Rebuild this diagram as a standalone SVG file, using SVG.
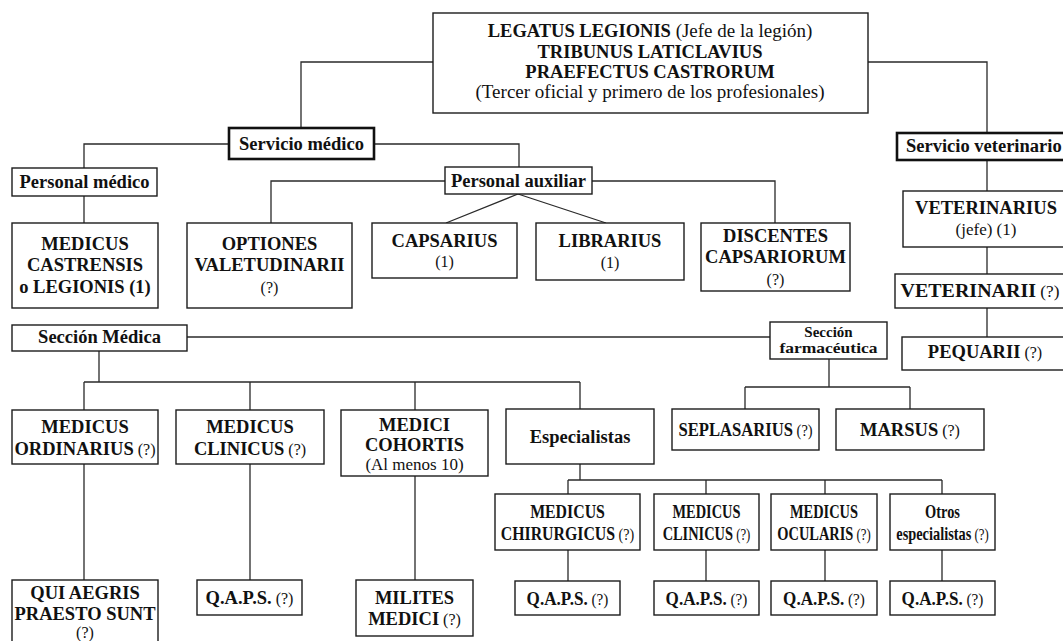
<svg xmlns="http://www.w3.org/2000/svg" width="1063" height="641" viewBox="0 0 1063 641">
<style>
.b{fill:#fff;stroke:#1c1c1c;stroke-width:1.4}
.bt{fill:#fff;stroke:#111;stroke-width:2.6}
.c{fill:none;stroke:#2a2a2a;stroke-width:1.3}
text{font-family:"Liberation Serif","Times New Roman",serif;fill:#111;text-anchor:middle;font-weight:bold;font-size:18.5px}
.r{font-weight:normal;font-size:16px}
.r19{font-weight:normal;font-size:19px}
.s{font-size:18px}
.f{font-size:15px}
</style>
<rect width="1063" height="641" fill="#fff"/>
<g id="connectors">
<path class="c" d="M433,62H301V128"/>
<path class="c" d="M868,62H987V133"/>
<path class="c" d="M229,144H84V168"/>
<path class="c" d="M374,144H519V167"/>
<path class="c" d="M84,196V223"/>
<path class="c" d="M445,181H271V223"/>
<path class="c" d="M592,181H775V223"/>
<path class="c" d="M518,194L446,223M518,194L606,223"/>
<path class="c" d="M187,337H770"/>
<path class="c" d="M99,351V382M84,382H580M84,382V410M250,382V410M415,382V410M580,382V409"/>
<path class="c" d="M829,359V387M745,387H910M745,387V409M910,387V409"/>
<path class="c" d="M987,160V191M987,247V274M987,308V337"/>
<path class="c" d="M84,464V580M250,464V580M415,476V580"/>
<path class="c" d="M580,464V480M568,480H942M568,480V494M706,480V494M825,480V494M942,480V494"/>
<path class="c" d="M568,550V581M706,550V581M825,550V581M942,550V581"/>
</g>
<g id="legatus">
<rect class="b" x="433" y="13" width="435" height="100"/>
<text x="650" y="37"><tspan>LEGATUS LEGIONIS</tspan><tspan class="r19"> (Jefe de la legión)</tspan></text>
<text x="650" y="58">TRIBUNUS LATICLAVIUS</text>
<text x="650" y="78">PRAEFECTUS CASTRORUM</text>
<text x="650" y="98" class="r19">(Tercer oficial y primero de los profesionales)</text>
</g>
<g id="servicio-medico">
<rect class="bt" x="229" y="128" width="145" height="31"/>
<text x="301.5" y="150">Servicio médico</text>
</g>
<g id="servicio-veterinario">
<rect class="bt" x="897" y="133" width="180" height="27"/>
<text x="906" y="152" style="text-anchor:start">Servicio veterinario</text>
</g>
<g id="personal-medico">
<rect class="b" x="12" y="168" width="145" height="28"/>
<text x="84.5" y="188">Personal médico</text>
</g>
<g id="personal-auxiliar">
<rect class="b" x="445" y="167" width="147" height="27"/>
<text x="518.5" y="187">Personal auxiliar</text>
</g>
<g id="medicus-castrensis">
<rect class="b" x="12" y="223" width="146" height="85"/>
<text x="85" y="250">MEDICUS</text>
<text x="85" y="271">CASTRENSIS</text>
<text x="85" y="293">o LEGIONIS (1)</text>
</g>
<g id="optiones">
<rect class="b" x="187" y="223" width="165" height="85"/>
<text x="269.5" y="250">OPTIONES</text>
<text x="269.5" y="271">VALETUDINARII</text>
<text x="269.5" y="293" class="r">(?)</text>
</g>
<g id="capsarius">
<rect class="b" x="372" y="223" width="145" height="55"/>
<text x="444.5" y="247">CAPSARIUS</text>
<text x="444.5" y="267" class="r">(1)</text>
</g>
<g id="librarius">
<rect class="b" x="536" y="223" width="148" height="57"/>
<text x="610" y="247">LIBRARIUS</text>
<text x="610" y="268" class="r">(1)</text>
</g>
<g id="discentes">
<rect class="b" x="701" y="223" width="149" height="68"/>
<text x="775.5" y="242">DISCENTES</text>
<text x="775.5" y="263">CAPSARIORUM</text>
<text x="775.5" y="285" class="r">(?)</text>
</g>
<g id="veterinarius">
<rect class="b" x="903" y="191" width="170" height="56"/>
<text x="986" y="214">VETERINARIUS</text>
<text x="986" y="235" class="r" style="font-size:17px">(jefe) (1)</text>
</g>
<g id="veterinarii">
<rect class="b" x="895" y="274" width="180" height="34"/>
<g transform="translate(980,0) scale(1.08,1)"><text x="0" y="297"><tspan>VETERINARII</tspan><tspan class="r"> (?)</tspan></text></g>
</g>
<g id="pequarii">
<rect class="b" x="902" y="337" width="170" height="33"/>
<text x="985" y="358"><tspan>PEQUARII</tspan><tspan class="r"> (?)</tspan></text>
</g>
<g id="seccion-medica">
<rect class="b" x="12" y="325" width="175" height="26"/>
<text x="99.5" y="343">Sección Médica</text>
</g>
<g id="seccion-farmaceutica">
<rect class="b" x="770" y="322" width="117" height="37"/>
<text x="828.5" y="337" class="f">Sección</text>
<text x="828.5" y="353" class="f" textLength="98" lengthAdjust="spacingAndGlyphs">farmacéutica</text>
</g>
<g id="medicus-ordinarius">
<rect class="b" x="12" y="410" width="146" height="54"/>
<text x="85" y="433">MEDICUS</text>
<text x="85" y="455"><tspan>ORDINARIUS</tspan><tspan class="r"> (?)</tspan></text>
</g>
<g id="medicus-clinicus">
<rect class="b" x="176" y="410" width="148" height="54"/>
<text x="250" y="433">MEDICUS</text>
<text x="250" y="455"><tspan>CLINICUS</tspan><tspan class="r"> (?)</tspan></text>
</g>
<g id="medici-cohortis">
<rect class="b" x="341" y="410" width="147" height="66"/>
<text x="414.5" y="431">MEDICI</text>
<text x="414.5" y="451">COHORTIS</text>
<text x="414.5" y="470" class="r" style="font-size:17px">(Al menos 10)</text>
</g>
<g id="especialistas">
<rect class="b" x="506" y="409" width="148" height="55"/>
<text x="580" y="443">Especialistas</text>
</g>
<g id="seplasarius">
<rect class="b" x="672" y="409" width="147" height="41"/>
<g transform="translate(745.5,0) scale(0.9,1)"><text x="0" y="436"><tspan>SEPLASARIUS</tspan><tspan class="r"> (?)</tspan></text></g>
</g>
<g id="marsus">
<rect class="b" x="836" y="409" width="148" height="41"/>
<text x="910" y="436"><tspan>MARSUS</tspan><tspan class="r"> (?)</tspan></text>
</g>
<g id="medicus-chirurgicus">
<rect class="b" x="495" y="494" width="145" height="56"/>
<g transform="translate(567.5,0) scale(0.88,1)">
<text x="0" y="518" class="s">MEDICUS</text>
<text x="0" y="540" class="s"><tspan>CHIRURGICUS</tspan><tspan class="r"> (?)</tspan></text>
</g>
</g>
<g id="medicus-clinicus-2">
<rect class="b" x="654" y="494" width="105" height="56"/>
<g transform="translate(706.5,0) scale(0.8,1)">
<text x="0" y="518" class="s">MEDICUS</text>
<text x="0" y="540" class="s"><tspan>CLINICUS</tspan><tspan class="r"> (?)</tspan></text>
</g>
</g>
<g id="medicus-ocularis">
<rect class="b" x="771" y="494" width="106" height="56"/>
<g transform="translate(824,0) scale(0.8,1)">
<text x="0" y="518" class="s">MEDICUS</text>
<text x="0" y="540" class="s"><tspan>OCULARIS</tspan><tspan class="r">  (?)</tspan></text>
</g>
</g>
<g id="otros-especialistas">
<rect class="b" x="890" y="494" width="105" height="56"/>
<g transform="translate(942.5,0) scale(0.8,1)">
<text x="0" y="518" class="s">Otros</text>
<text x="0" y="540" class="s"><tspan>especialistas</tspan><tspan class="r"> (?)</tspan></text>
</g>
</g>
<g id="qui-aegris">
<rect class="b" x="12" y="580" width="146" height="70"/>
<text x="85" y="599">QUI AEGRIS</text>
<text x="85" y="620">PRAESTO SUNT</text>
<text x="85" y="638" class="r">(?)</text>
</g>
<g id="qaps-clinicus">
<rect class="b" x="197" y="580" width="105" height="35"/>
<text x="249.5" y="604"><tspan>Q.A.P.S.</tspan><tspan class="r"> (?)</tspan></text>
</g>
<g id="milites-medici">
<rect class="b" x="356" y="580" width="117" height="56"/>
<text x="414.5" y="604">MILITES</text>
<text x="414.5" y="625"><tspan>MEDICI</tspan><tspan class="r"> (?)</tspan></text>
</g>
<g id="qaps-1">
<rect class="b" x="515" y="581" width="105" height="34"/>
<g transform="translate(567.5,0) scale(0.95,1)"><text x="0" y="605" class="s"><tspan>Q.A.P.S.</tspan><tspan class="r"> (?)</tspan></text></g>
</g>
<g id="qaps-2">
<rect class="b" x="654" y="581" width="105" height="34"/>
<g transform="translate(706.5,0) scale(0.95,1)"><text x="0" y="605" class="s"><tspan>Q.A.P.S.</tspan><tspan class="r"> (?)</tspan></text></g>
</g>
<g id="qaps-3">
<rect class="b" x="771" y="581" width="106" height="34"/>
<g transform="translate(824,0) scale(0.95,1)"><text x="0" y="605" class="s"><tspan>Q.A.P.S.</tspan><tspan class="r"> (?)</tspan></text></g>
</g>
<g id="qaps-4">
<rect class="b" x="890" y="581" width="105" height="34"/>
<g transform="translate(942.5,0) scale(0.95,1)"><text x="0" y="605" class="s"><tspan>Q.A.P.S.</tspan><tspan class="r"> (?)</tspan></text></g>
</g>
</svg>
